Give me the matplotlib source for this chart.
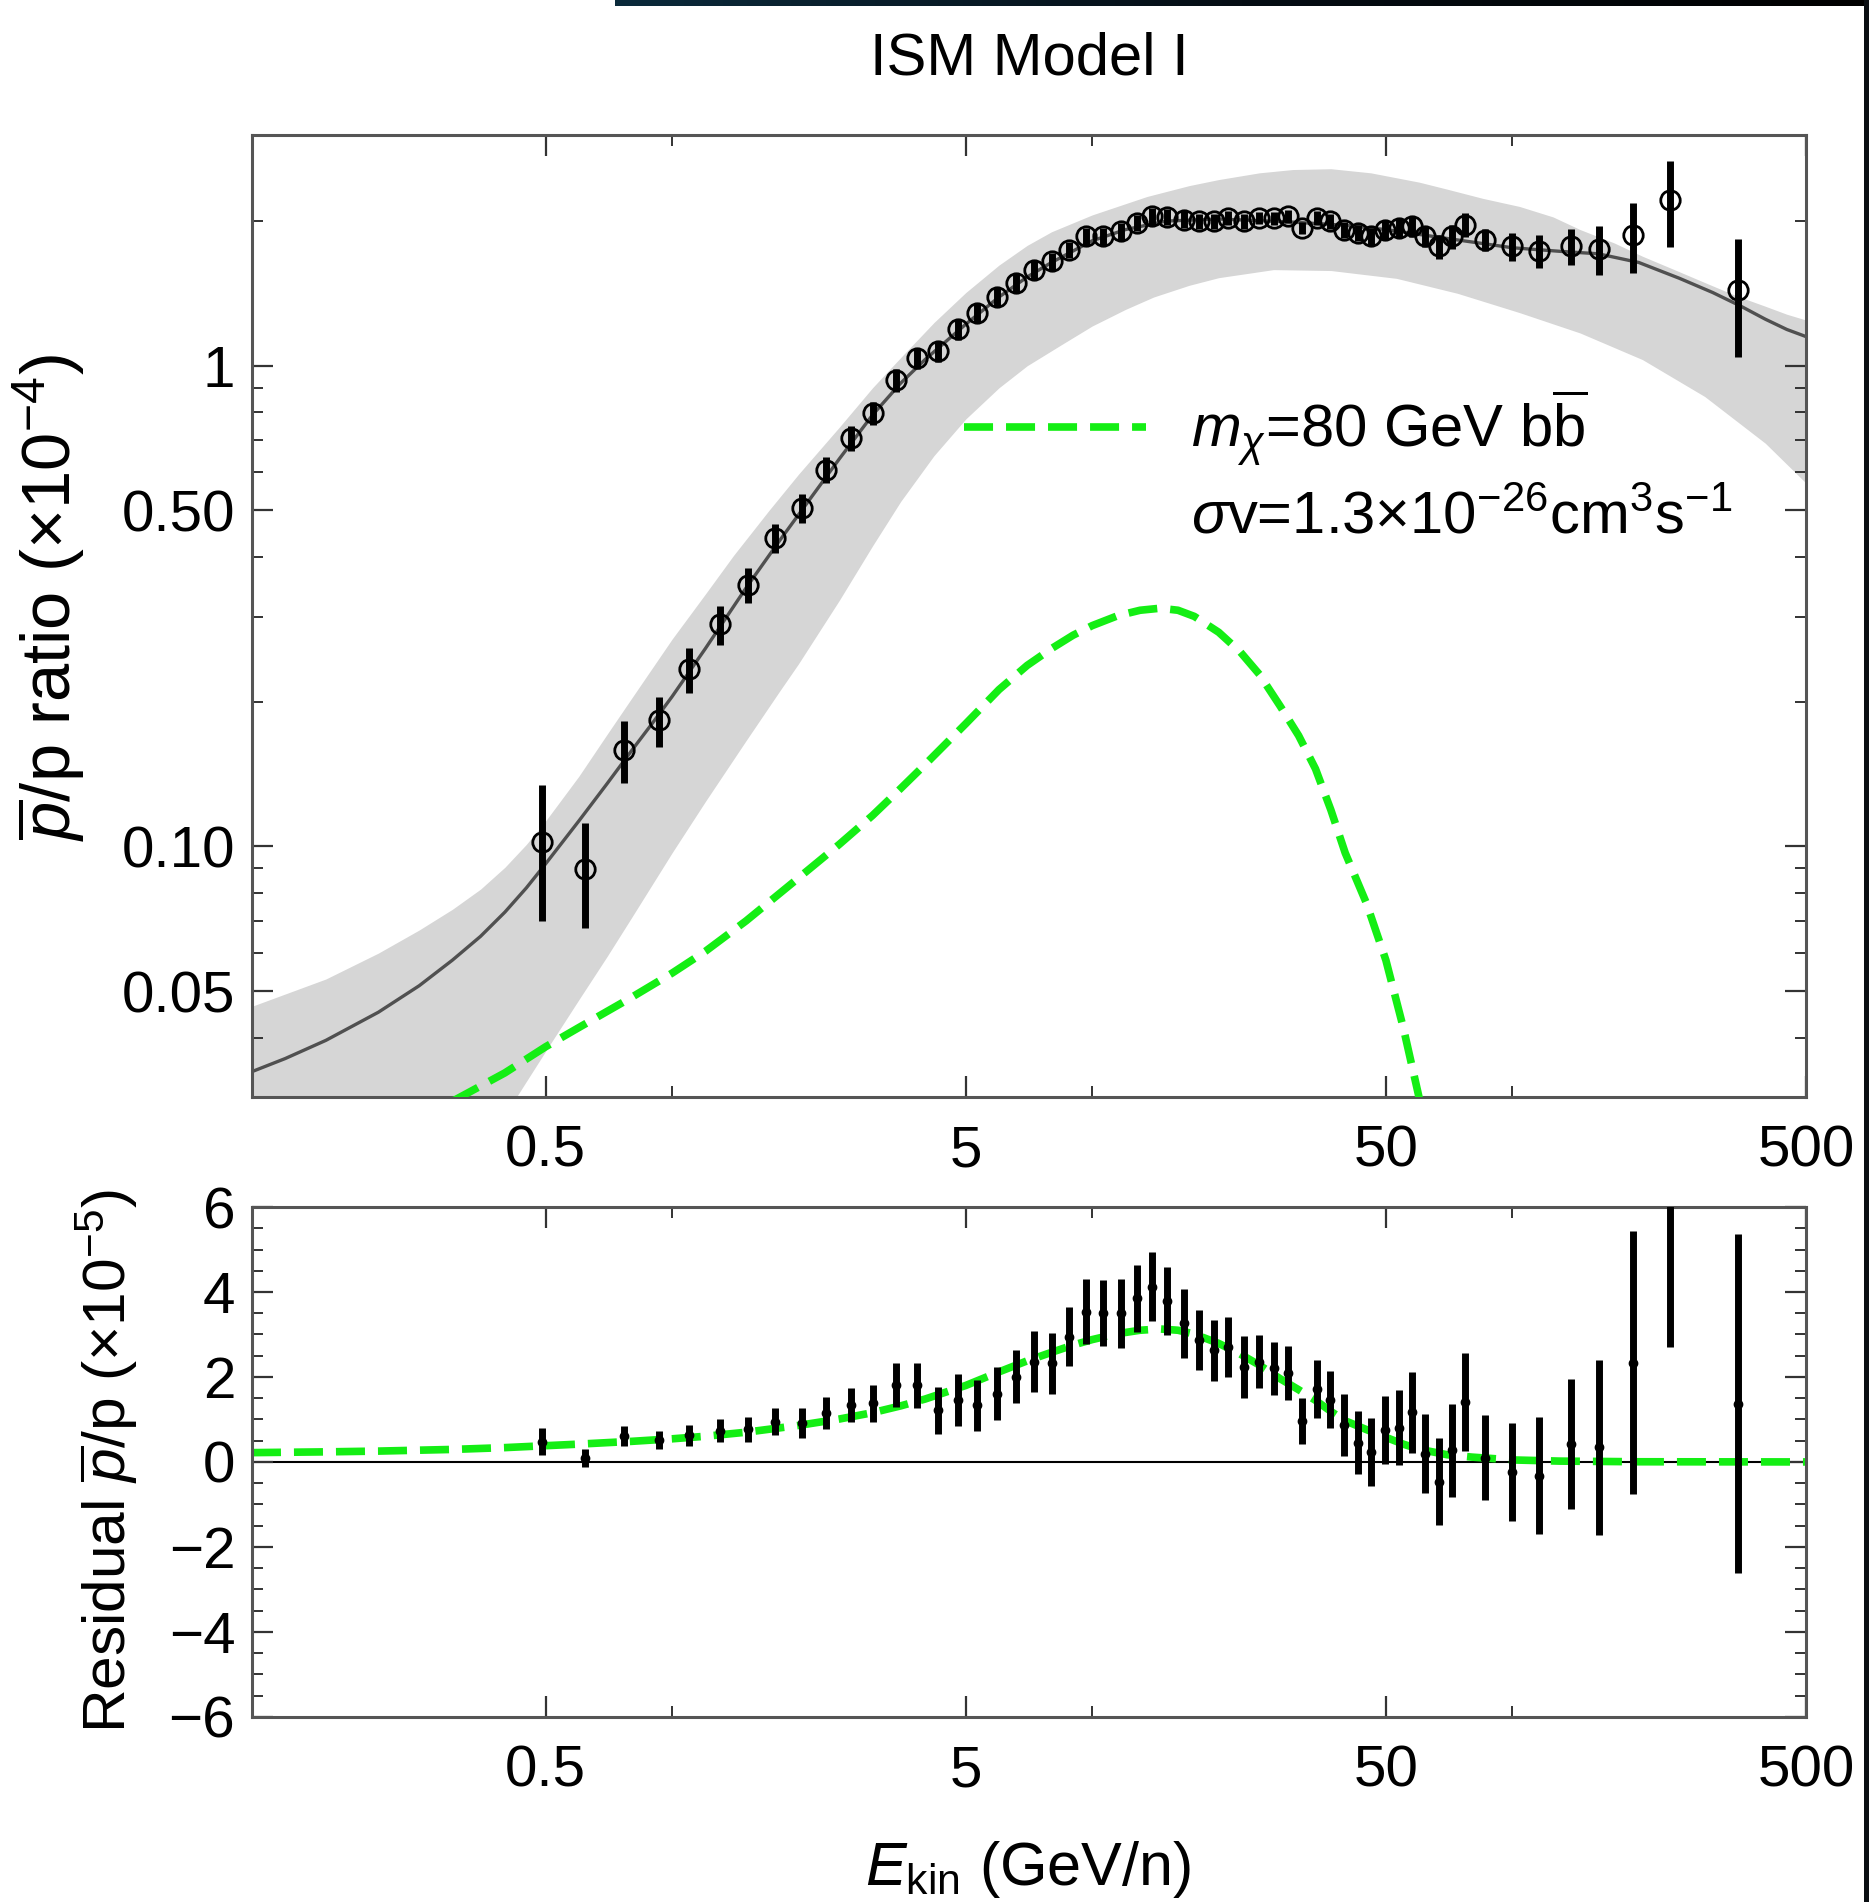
import numpy as np
import matplotlib
matplotlib.use('Agg')
import matplotlib.pyplot as plt
from matplotlib.lines import Line2D
from matplotlib.patches import Rectangle
from matplotlib.colors import LinearSegmentedColormap

plt.rcParams['font.family'] = ['Liberation Sans', 'DejaVu Sans']
plt.rcParams['mathtext.fontset'] = 'custom'
plt.rcParams['mathtext.rm'] = 'Liberation Sans'
plt.rcParams['mathtext.it'] = 'Liberation Sans:italic'
plt.rcParams['mathtext.bf'] = 'Liberation Sans:bold'

# AMS-02 pbar/p data (E_kin in GeV/n, ratio in 1e-4, residual in 1e-5)
energy = [0.49, 0.62, 0.77, 0.93, 1.10, 1.30, 1.52, 1.76, 2.04, 2.33,
          2.66, 3.01, 3.41, 3.82, 4.30, 4.80, 5.33, 5.93, 6.58, 7.28,
          8.03, 8.82, 9.69, 10.6, 11.7, 12.8, 13.9, 15.1, 16.5, 18.0,
          19.5, 21.1, 23.0, 25.0, 27.1, 29.3, 31.6, 34.2, 36.9, 39.7,
          42.9, 46.2, 49.8, 53.7, 57.7, 61.8, 66.8, 72.0, 77.3, 86.1,
          99.7, 116, 138, 161, 194, 237, 344]
ratio = [0.102, 0.0897, 0.159, 0.183, 0.234, 0.290, 0.350, 0.438, 0.506, 0.608,
         0.707, 0.797, 0.935, 1.038, 1.071, 1.192, 1.286, 1.388, 1.488, 1.584,
         1.648, 1.743, 1.858, 1.858, 1.903, 1.981, 2.045, 2.040, 2.013, 1.997,
         1.997, 2.030, 1.997, 2.030, 2.030, 2.045, 1.934, 2.030, 1.997, 1.919,
         1.888, 1.858, 1.919, 1.934, 1.949, 1.858, 1.771, 1.858, 1.966, 1.829,
         1.771, 1.735, 1.775, 1.748, 1.873, 2.216, 1.440]
resid = [0.48, 0.09, 0.60, 0.52, 0.63, 0.74, 0.77, 0.95, 0.91, 1.16,
         1.34, 1.38, 1.81, 1.81, 1.22, 1.46, 1.34, 1.61, 2.01, 2.36,
         2.32, 2.95, 3.54, 3.51, 3.50, 3.85, 4.12, 3.79, 3.26, 2.87,
         2.63, 2.71, 2.23, 2.36, 2.20, 2.09, 0.97, 1.71, 1.47, 0.87,
         0.45, 0.24, 0.76, 0.81, 1.17, 0.19, -0.46, 0.27, 1.41, 0.10,
         -0.24, -0.32, 0.42, 0.35, 2.34, 7.20, 1.37]
resid_err = [0.32, 0.22, 0.235, 0.22, 0.25, 0.27, 0.29, 0.31, 0.35, 0.38,
             0.41, 0.44, 0.51, 0.53, 0.55, 0.61, 0.60, 0.63, 0.63, 0.72,
             0.72, 0.70, 0.77, 0.78, 0.81, 0.78, 0.81, 0.81, 0.82, 0.71,
             0.72, 0.71, 0.73, 0.62, 0.63, 0.63, 0.54, 0.68, 0.68, 0.73,
             0.74, 0.80, 0.80, 0.88, 0.95, 0.93, 1.02, 1.09, 1.15, 1.00,
             1.16, 1.37, 1.53, 2.06, 3.10, 4.50, 3.99]

# best-fit total (background + DM), 1e-4
model_e = [0.10, 0.12, 0.15, 0.20, 0.25, 0.30, 0.35, 0.40, 0.45, 0.50, 0.60, 0.70,
           0.80, 0.90, 1.0, 1.2, 1.5, 1.8, 2.0, 2.5, 3.0, 3.5, 4.0, 5.0, 6.0, 7.0,
           8.0, 10, 12, 15, 20, 30, 40, 50, 70, 100, 130, 160, 200, 250, 300, 350,
           400, 450, 500]
model = [0.0340, 0.0362, 0.0395, 0.0452, 0.0513, 0.0580, 0.0650, 0.0730, 0.0820,
         0.0920, 0.113, 0.135, 0.158, 0.181, 0.205, 0.258, 0.345, 0.432, 0.490,
         0.640, 0.790, 0.920, 1.03, 1.22, 1.39, 1.53, 1.64, 1.82, 1.92, 2.00, 2.02,
         1.99, 1.96, 1.92, 1.84, 1.76, 1.73, 1.71, 1.64, 1.52, 1.42, 1.33, 1.25,
         1.19, 1.15]

# uncertainty band of the background, 1e-4
band_hi_e = [0.10, 0.15, 0.20, 0.25, 0.30, 0.35, 0.40, 0.45, 0.50, 0.60, 0.70, 0.80,
             1.0, 1.2, 1.4, 1.7, 2.0, 2.5, 3.0, 3.5, 4.2, 5.0, 6.0, 7.0, 8.0, 10,
             13.5, 17, 20, 25, 30, 37, 46, 60, 70, 85, 104, 125, 145, 175, 204,
             245, 287, 340, 400, 450, 500]
band_hi = [0.0465, 0.053, 0.060, 0.067, 0.074, 0.0815, 0.0905, 0.101, 0.113,
           0.140, 0.171, 0.203, 0.270, 0.335, 0.403, 0.500, 0.595, 0.745, 0.900,
           1.04, 1.23, 1.42, 1.62, 1.78, 1.90, 2.06, 2.25, 2.37, 2.44, 2.52, 2.56,
           2.57, 2.52, 2.41, 2.33, 2.23, 2.145, 2.04, 1.92, 1.80, 1.69, 1.58, 1.49,
           1.40, 1.33, 1.28, 1.245]
band_lo_e = [0.10, 0.20, 0.30, 0.38, 0.425, 0.50, 0.60, 0.70, 0.80, 1.0, 1.2, 1.5,
             1.8, 2.0, 2.5, 3.0, 3.5, 4.2, 5.0, 6.0, 7.0, 8.5, 10, 12, 14, 17, 20,
             27, 37, 53, 74, 104, 145, 204, 287, 400, 500]
band_lo = [0.0025, 0.0072, 0.0155, 0.025, 0.030, 0.0375, 0.048, 0.059, 0.071,
           0.097, 0.124, 0.166, 0.210, 0.240, 0.325, 0.422, 0.522, 0.650, 0.775,
           0.900, 1.00, 1.11, 1.21, 1.31, 1.39, 1.47, 1.525, 1.585, 1.578, 1.52,
           1.415, 1.29, 1.17, 1.03, 0.863, 0.69, 0.57]

# DM contribution, m_chi = 80 GeV bb, 1e-4
dm_e = [0.1, 0.15, 0.2, 0.3, 0.4, 0.5, 0.6, 0.8, 1.0, 1.2, 1.5, 2.0, 2.5, 3.0,
        3.5, 4.0, 5.0, 6.0, 7.0, 8.0, 9.0, 10, 11.5, 13, 14.5, 16, 17.5, 20, 22.5,
        25, 28, 31, 34, 37, 40, 45, 50, 55, 60, 70, 80, 100, 130, 200, 500]
dm = [0.0220, 0.0238, 0.0256, 0.0295, 0.0338, 0.0383, 0.0420, 0.0485, 0.0545,
      0.0605, 0.0700, 0.0860, 0.101, 0.116, 0.132, 0.148, 0.180, 0.212, 0.238,
      0.258, 0.275, 0.288, 0.302, 0.310, 0.313, 0.310, 0.301, 0.279, 0.254,
      0.228, 0.196, 0.170, 0.145, 0.119, 0.097, 0.076, 0.058, 0.042, 0.030,
      0.017, 0.0115, 0.0048, 0.0020, 0.0005, 0.0001]

GREEN = '#14ee14'
FS = 42
dash = (3.8, 1.7)

fig = plt.figure(figsize=(18.69, 19.02), dpi=100)
ax1 = fig.add_axes([0.1348, 0.4232, 0.8315, 0.5058])
ax2 = fig.add_axes([0.1348, 0.0973, 0.8315, 0.2681])

energy = np.array(energy)
ratio_err = np.array(resid_err) / 10.0

# top panel
ax1.fill_between(band_hi_e, 1e-3, band_hi, color='#d6d6d6', lw=0, zorder=1)
ax1.fill_between(band_lo_e, 1e-3, band_lo, color='white', lw=0, zorder=1.1)
ax1.plot(model_e, model, color='#505050', lw=2.4, zorder=2)
ax1.plot(dm_e, dm, color=GREEN, lw=5.5, dashes=dash, zorder=3)
ax1.errorbar(energy, ratio, yerr=ratio_err, fmt='none', ecolor='black',
             elinewidth=5, capsize=0, zorder=4)
ax1.plot(energy, ratio, 'o', mfc='none', mec='black', ms=14, mew=2.0, zorder=5)
ax1.set_xscale('log')
ax1.set_yscale('log')
ax1.set_xlim(0.1, 500)
ax1.set_ylim(0.0301, 3.02)
ax1.set_yticks([0.05, 0.1, 0.5, 1])
ax1.set_yticklabels(['0.05', '0.10', '0.50', '1'])
ax1.set_yticks([0.04, 0.06, 0.07, 0.08, 0.09, 0.2, 0.3, 0.4, 0.6, 0.7, 0.8, 0.9, 2],
               minor=True)

legend_handles = [Line2D([], [], color=GREEN, lw=5.5, dashes=dash),
                  Line2D([], [], color='none')]
legend_labels = [r'$m_{\chi}$=80 GeV b$\overline{\mathrm{b}}$',
                 r'$\sigma$v=1.3×10$^{-26}$cm$^{3}$s$^{-1}$']
ax1.legend(legend_handles, legend_labels, loc='upper left', bbox_to_anchor=(0.458, 0.738),
           frameon=False, fontsize=43, handlelength=3.05, handletextpad=0.75,
           labelspacing=0.38, borderpad=0, borderaxespad=0)

# bottom panel: residuals
ax2.axhline(0, color='black', lw=1.5, zorder=1)
ax2.plot(dm_e, np.array(dm) * 10, color=GREEN, lw=5.5, dashes=dash, zorder=2)
ax2.errorbar(energy, resid, yerr=resid_err, fmt='o', color='black', ms=6,
             elinewidth=5, capsize=0, zorder=3)
ax2.set_xscale('log')
ax2.set_xlim(0.1, 500)
ax2.set_ylim(-6, 6)
ax2.set_yticks([-6, -4, -2, 0, 2, 4, 6])
ax2.set_yticklabels(['\u22126', '\u22124', '\u22122', '0', '2', '4', '6'])
ax2.set_yticks(np.arange(-6, 6.01, 0.5), minor=True)

for ax in (ax1, ax2):
    ax.set_xticks([0.5, 5, 50, 500])
    ax.set_xticklabels(['0.5', '5', '50', '500'])
    ax.set_xticks([1, 10, 100], minor=True)
    ax.xaxis.set_minor_formatter(plt.NullFormatter())
    ax.yaxis.set_minor_formatter(plt.NullFormatter())
    ax.tick_params(which='both', direction='in', top=True, right=True,
                   color='#333333', labelsize=FS)
    ax.tick_params(which='major', length=15, width=1.6)
    ax.tick_params(which='minor', length=8, width=1.4)
    ax.tick_params(axis='x', pad=20)
    ax.tick_params(axis='y', pad=12)
    for s in ax.spines.values():
        s.set_color('#555555')
        s.set_linewidth(2.2)

fig.text(0.5505, 0.9688, 'ISM Model I', ha='center', va='center', fontsize=43)
fig.text(0.0262, 0.686, r'$\overline{p}$/p ratio (×10$^{-4}$)', rotation=90,
         ha='center', va='center', fontsize=49.5)
fig.text(0.0571, 0.2315, r'Residual $\overline{p}$/p (×10$^{-5}$)', rotation=90,
         ha='center', va='center', fontsize=43.5)
fig.text(0.5503, 0.0170, r'$E_{\mathrm{kin}}$ (GeV/n)', ha='center', va='center',
         fontsize=44)

# dark strips along the top and right edge of the screenshot
bar_ax = fig.add_axes([615 / 1869, 1 - 6 / 1902, 1 - 615 / 1869, 6 / 1902])
bar_cmap = LinearSegmentedColormap.from_list('bar', ['#0b2a3b', '#050d14', '#000000'])
bar_ax.imshow(np.linspace(0, 1, 256)[None, :], aspect='auto', cmap=bar_cmap)
bar_ax.axis('off')
fig.add_artist(Rectangle((1 - 5 / 1869, 0), 5 / 1869, 1, transform=fig.transFigure,
                         color='#0a0e12', lw=0))

fig.savefig('out.png', dpi=100)
